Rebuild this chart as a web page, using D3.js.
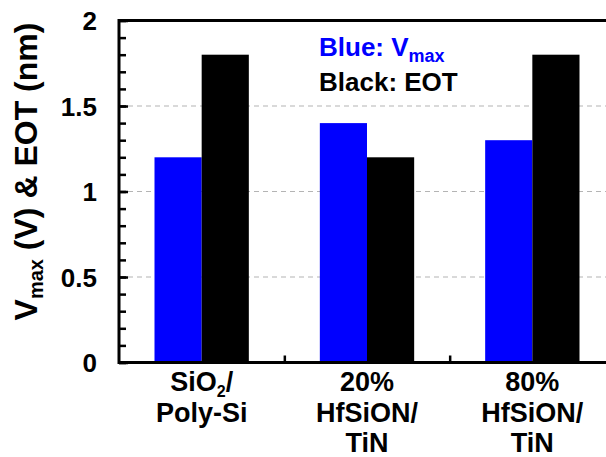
<!DOCTYPE html>
<html>
<head>
<meta charset="utf-8">
<script src="https://cdn.jsdelivr.net/npm/d3@7"></script>
<style>
  html, body { margin: 0; padding: 0; background: #fff; }
  svg { display: block; }
  text { font-family: "Liberation Sans", Arial, Helvetica, sans-serif; font-weight: bold; }
</style>
</head>
<body>
<svg id="chart" width="606" height="457"></svg>
<script>
// Gate stacks compared
const categories = ["SiO2/Poly-Si", "20% HfSiON/TiN", "80% HfSiON/TiN"];
// Multi-line category labels; a "_2" segment is drawn as a subscript
const categoryLines = [
  [["Si", "O", "_2", "/"], ["Poly-Si"]],
  [["20%"], ["HfSiON/"], ["TiN"]],
  [["80%"], ["HfSiON/"], ["TiN"]]
];
const seriesKeys = ["vmax", "eot"];
const vmaxValues = [1.2, 1.4, 1.3];   // V
const eotValues = [1.8, 1.2, 1.8];    // nm
const seriesColors = ["#0000ff", "#000000"];
const yTickValues = [0, 0.5, 1, 1.5, 2];
const yTickLabels = ["0", "0.5", "1", "1.5", "2"];
const yMinorTicks = d3.range(0, 2.0001, 0.1).map(v => +v.toFixed(1));
const gridValues = [0.5, 1, 1.5];

const svg = d3.select("#chart");
const plot = { left: 119, right: 615, top: 20.5, bottom: 362.5 };

const x0 = d3.scaleBand().domain(categories).range([plot.left, plot.right]).padding(0);
const groupPad = 35.5;
const x1 = d3.scaleBand().domain(seriesKeys).range([groupPad, x0.bandwidth() - groupPad]).padding(0);
const y = d3.scaleLinear().domain([0, 2]).range([plot.bottom, plot.top]);

// dashed horizontal grid
svg.append("g")
  .selectAll("line")
  .data(gridValues)
  .join("line")
  .attr("x1", plot.left).attr("x2", plot.right)
  .attr("y1", d => y(d)).attr("y2", d => y(d))
  .attr("stroke", "#b4b4b4")
  .attr("stroke-width", 1.2)
  .attr("stroke-dasharray", "5,4");

// bars
const rows = categories.map((c, i) => ({ cat: c, vmax: vmaxValues[i], eot: eotValues[i] }));
const groups = svg.append("g")
  .selectAll("g")
  .data(rows)
  .join("g")
  .attr("transform", d => `translate(${x0(d.cat)},0)`);

groups.selectAll("rect")
  .data(d => seriesKeys.map((k, j) => ({ key: k, value: d[k], color: seriesColors[j] })))
  .join("rect")
  .attr("x", d => x1(d.key))
  .attr("width", x1.bandwidth())
  .attr("y", d => y(d.value))
  .attr("height", d => y(0) - y(d.value))
  .attr("fill", d => d.color);

// left axis with inward major and minor ticks
const yAxisMajor = d3.axisRight(y).tickValues(yTickValues).tickSize(9).tickFormat("");
const yAxisMinor = d3.axisRight(y).tickValues(yMinorTicks).tickSize(7).tickFormat("");
const gMinor = svg.append("g").attr("transform", `translate(${plot.left},0)`).call(yAxisMinor);
const gMajor = svg.append("g").attr("transform", `translate(${plot.left},0)`).call(yAxisMajor);
[gMinor, gMajor].forEach(g => {
  g.select(".domain").remove();
  g.selectAll("line").attr("stroke", "#000").attr("stroke-width", 2.5);
});

// tick labels
svg.append("g")
  .selectAll("text")
  .data(yTickValues)
  .join("text")
  .attr("x", 97)
  .attr("y", d => y(d) + 9.5)
  .attr("text-anchor", "end")
  .attr("font-size", 26)
  .text((d, i) => yTickLabels[i]);

// bottom axis: inward ticks at the category boundaries
const xBoundaries = categories.slice(1).map(c => x0(c));
const xb = d3.scaleLinear().domain([plot.left, plot.right]).range([plot.left, plot.right]);
const gx = svg.append("g").attr("transform", `translate(0,${plot.bottom})`)
  .call(d3.axisTop(xb).tickValues(xBoundaries).tickSize(7).tickFormat(""));
gx.select(".domain").remove();
gx.selectAll("line").attr("stroke", "#000").attr("stroke-width", 2.5);

// frame
svg.append("rect")
  .attr("x", plot.left).attr("y", plot.top)
  .attr("width", plot.right - plot.left).attr("height", plot.bottom - plot.top)
  .attr("fill", "none").attr("stroke", "#000").attr("stroke-width", 3);

// category labels
const lineGap = 30.5;
categoryLines.forEach((lines, i) => {
  const cx = x0(categories[i]) + x0.bandwidth() / 2;
  lines.forEach((parts, li) => {
    const t = svg.append("text")
      .attr("x", cx)
      .attr("y", 391 + li * lineGap)
      .attr("text-anchor", "middle")
      .attr("font-size", 27);
    parts.forEach((p, pi) => {
      if (p.startsWith("_")) {
        t.append("tspan").attr("font-size", 16).attr("dy", 6).text(p.slice(1));
      } else {
        const s = t.append("tspan").text(p);
        if (pi > 0 && parts[pi - 1].startsWith("_")) s.attr("dy", -6);
      }
    });
  });
});

// y axis title
const yTitle = svg.append("text")
  .attr("transform", "translate(37,171.5) rotate(-90)")
  .attr("text-anchor", "middle")
  .attr("font-size", 32);
yTitle.append("tspan").text("V");
yTitle.append("tspan").attr("font-size", 20).attr("dy", 6).text("max");
yTitle.append("tspan").attr("dy", -6).text(" (V) & EOT (nm)");

// legend text
const leg1 = svg.append("text").attr("x", 319).attr("y", 56).attr("font-size", 26).attr("fill", seriesColors[0]);
leg1.append("tspan").text("Blue: V");
leg1.append("tspan").attr("font-size", 18).attr("dy", 6).text("max");
svg.append("text").attr("x", 319).attr("y", 91).attr("font-size", 26).attr("fill", seriesColors[1]).text("Black: EOT");
</script>
</body>
</html>
